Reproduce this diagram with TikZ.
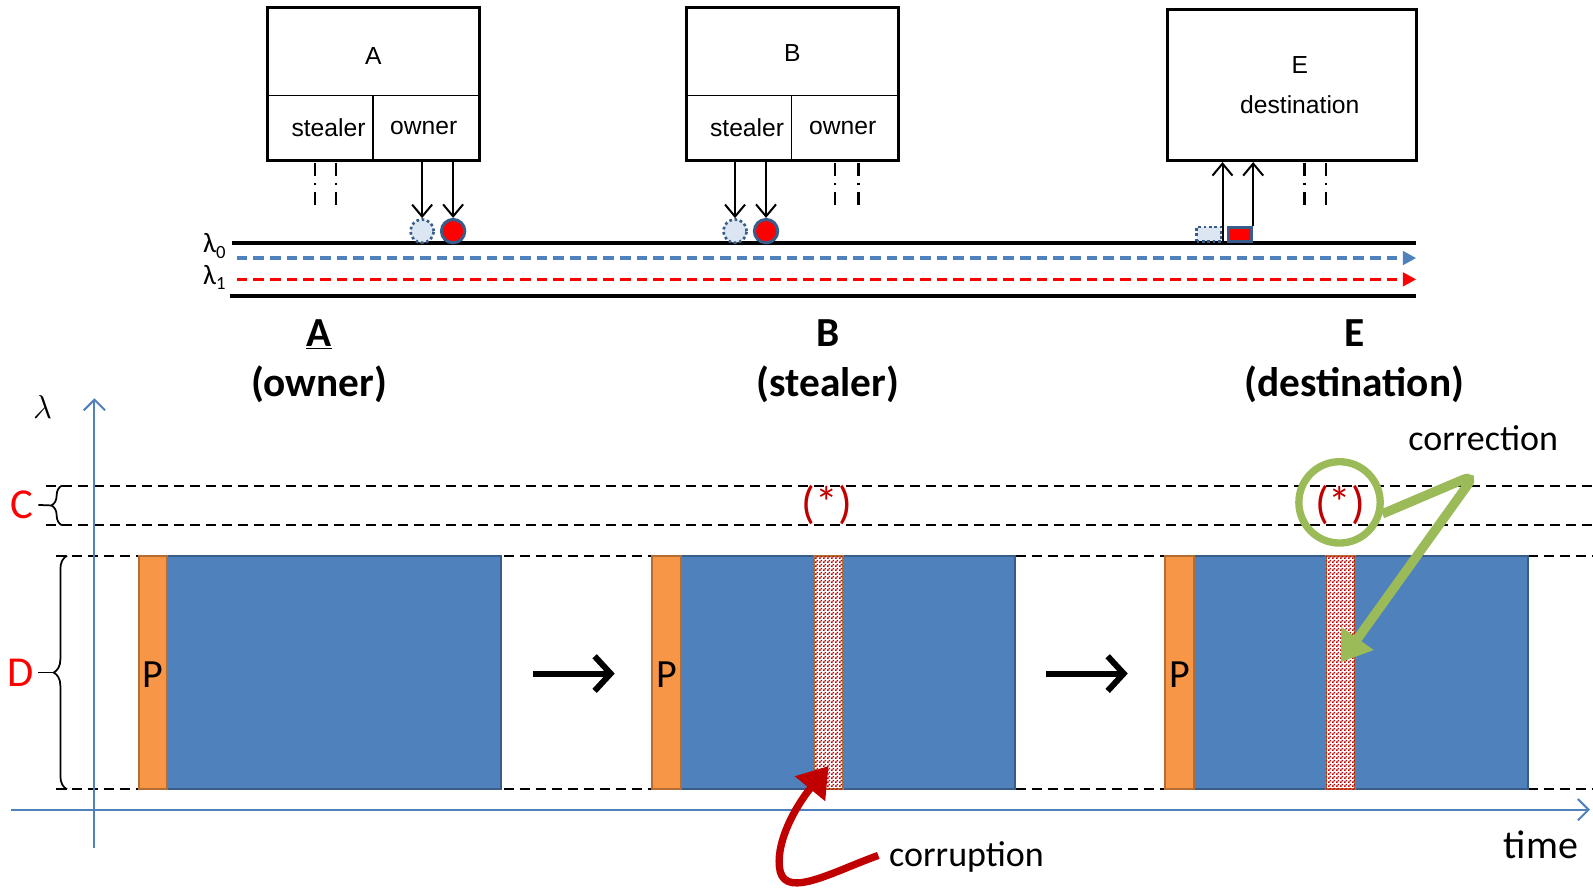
\documentclass[tikz,border=0pt]{standalone}
\usepackage{fontspec}
\setmainfont{Carlito}
\newfontfamily\boxfont{Liberation Sans}
\usetikzlibrary{arrows.meta,decorations.pathreplacing,patterns}

\definecolor{ablue}{HTML}{4F81BD}
\definecolor{dblue}{HTML}{385D8A}
\definecolor{aorange}{HTML}{F79646}
\definecolor{dorange}{HTML}{B66D31}
\definecolor{agreen}{HTML}{9BBB59}
\definecolor{dred}{HTML}{C00000}
\definecolor{pale}{HTML}{DCE6F2}

% fine red/white checkerboard for the corrupted stripe
\pgfdeclarepatternformonly{finecheck}{\pgfpointorigin}{\pgfqpoint{2.6pt}{2.6pt}}{\pgfqpoint{2.6pt}{2.6pt}}{%
  \pgfpathrectangle{\pgfpointorigin}{\pgfqpoint{1.3pt}{1.3pt}}%
  \pgfpathrectangle{\pgfqpoint{1.3pt}{1.3pt}}{\pgfqpoint{1.3pt}{1.3pt}}%
  \pgfusepath{fill}}

\tikzset{
  sz/.style 2 args={minimum width=#1*0.762pt, minimum height=#2*0.762pt, inner sep=0pt},
  cell/.style={draw, line width=1.1pt, font=\boxfont\fontsize{18.5}{22}\selectfont},
  frame/.style={draw, line width=2.3pt},
  dashdot/.style={line width=1.6pt, dash pattern=on 10pt off 5pt on 2pt off 5pt},
  dn/.style={line width=1.5pt, -{Straight Barb[length=9pt,width=15pt,line width=1.5pt]}},
  ghost/.style={draw=dblue, fill=pale, line width=2pt, dotted},
  hit/.style={draw=dblue, fill=red, line width=2.3pt},
  fiber/.style={line width=3pt},
  chan/.style={line width=2.6pt, dash pattern=on 8pt off 4.5pt, -{Triangle[length=10pt,width=10pt]}},
  lab/.style={font=\bfseries\fontsize{31}{36}\selectfont, anchor=base, inner sep=0pt},
  band/.style={line width=1.5pt, dash pattern=on 7.5pt off 4.5pt},
  axis/.style={draw=ablue, line width=1.5pt, -{Straight Barb[length=8pt,width=16pt,line width=1.5pt]}},
  payload/.style={fill=ablue, draw=dblue, line width=1.6pt},
  hdr/.style={fill=aorange, draw=dorange, line width=1.6pt, font=\fontsize{30}{34}\selectfont},
  bad/.style={fill=white, draw=dorange, line width=1.6pt, postaction={pattern=finecheck, pattern color=dred}},
  step arrow/.style={line width=4.5pt, -{Straight Barb[length=12pt,width=26pt,line width=4.5pt]}},
  star/.style={text=dred, font=\fontsize{34}{38}\selectfont},
  side/.style={text=red, font=\fontsize{32}{36}\selectfont},
  brc/.style={line width=1.3pt, decorate, decoration={brace, amplitude=#1}},
  note/.style={font=\fontsize{27}{32}\selectfont, anchor=base west, inner sep=0pt},
}

\begin{document}
\begin{tikzpicture}[x=0.762pt, y=-0.762pt]
\useasboundingbox (0,0) rectangle (1568,874);

% ---- node A ----
\node[cell, sz={207}{86}] (Atop) at (367.5,51) {\smash{\raisebox{-9.5pt}{A}}};
\node[cell, sz={103}{63}] (Aste) at (315.5,125.5) {\hspace*{12pt}stealer};
\node[cell, sz={104}{63}] (Aown) at (419,125.5) {owner\hspace*{3pt}};
\draw[frame] (Atop.north west) rectangle (Aown.south east);
% ---- node B ----
\node[cell, sz={208}{86}] (Btop) at (780,51) {\smash{\raisebox{-7.5pt}{B}}};
\node[cell, sz={103}{63}] (Bste) at (727.5,125.5) {\hspace*{12pt}stealer};
\node[cell, sz={105}{63}] (Bown) at (831.5,125.5) {owner\hspace*{3pt}};
\draw[frame] (Btop.north west) rectangle (Bown.south east);
% ---- node E ----
\node[cell, frame, sz={245}{149}, align=center, font=\boxfont\fontsize{18.5}{30}\selectfont] (Ebox) at (1271.5,83.5) {\hspace*{12pt}E\\\hspace*{12pt}destination};

% idle ports
\foreach \x in {310,331,822,845,1284,1305}
  \draw[dashdot] (\x,160) -- (\x,205);

% fibre with two wavelengths
\coordinate (f0s) at (228,239); \coordinate (f0e) at (1394,239);
\coordinate (f1s) at (226,291); \coordinate (f1e) at (1394,291);
\draw[fiber] (f0s) -- (f0e);
\draw[fiber] (f1s) -- (f1e);
\coordinate (b0) at (233,254); \coordinate (b1) at (1394,254);
\coordinate (r0) at (233,275); \coordinate (r1) at (1394,275);
\draw[chan, ablue] (b0) -- (b1);
\draw[chan, red] (r0) -- (r1);
\node[font=\fontsize{21}{24}\selectfont, inner sep=0pt] (l0) at (211,242) {λ\raisebox{-0.4ex}{\fontsize{14}{16}\selectfont 0}};
\node[font=\fontsize{21}{24}\selectfont, inner sep=0pt] (l1) at (211,273) {λ\raisebox{-0.4ex}{\fontsize{14}{16}\selectfont 1}};

% packets on the fibre
\node[ghost, circle, minimum size=17.5pt, inner sep=0pt] (ga) at (415.5,227.5) {};
\node[hit, circle, minimum size=17.5pt, inner sep=0pt] (ra) at (446,227.5) {};
\node[ghost, circle, minimum size=17.5pt, inner sep=0pt] (gb) at (723.5,227.5) {};
\node[hit, circle, minimum size=17.5pt, inner sep=0pt] (rb) at (754,227.5) {};
\node[ghost, sz={24}{14}] (ge) at (1190,230.5) {};
\node[hit, sz={23}{14}] (re) at (1220.5,230.5) {};

\draw[dn] (ga |- Aown.south) -- (ga.north);
\draw[dn] (ra |- Aown.south) -- (ra.north);
\draw[dn] (gb |- Bste.south) -- (gb.north);
\draw[dn] (rb |- Bste.south) -- (rb.north);
\draw[dn] (ge.east |- f0s) -- (ge.east |- Ebox.south);
\draw[dn] (re.north east) -- (re.north east |- Ebox.south);

% role labels
\node[lab] (nA) at (314,341) {\underline{A}};
\node[lab] (nAr) at (314,390) {(owner)};
\node[lab] (nB) at (815,341) {B};
\node[lab] (nBr) at (815,390) {(stealer)};
\node[lab] (nE) at (1333,341) {E};
\node[lab] (nEr) at (1333,390) {(destination)};

% ---- lower chart ----
\draw[band] (45,478) -- (1568,478);
\draw[band] (45,517) -- (1568,517);
\draw[band] (55,547) -- (1568,547);
\draw[band] (55,777) -- (1568,777);

\node[font=\fontsize{28}{32}\selectfont] (lam) at (42,401) {$\lambda$};
\node[side] (C) at (22,497) {C};
\node[side] (D) at (20,662) {D};
\draw[brc=8pt] (61,517) -- (61,478);
\draw[line width=1.3pt] (50,497.5) -- (C.east);
\draw[brc=10pt] (66,777) -- (66,547);
\draw[line width=1.3pt] (53,662) -- (D.east);

% frames in time
\node[payload, sz={329}{230}] (p1) at (328.5,662) {};
\node[hdr, sz={27}{230}] (h1) at (150.5,662) {\smash{\raisebox{-11pt}{P}}};

\node[payload, sz={329}{230}] (p2) at (834.5,662) {};
\node[hdr, sz={28}{230}] (h2) at (656,662) {\smash{\raisebox{-11pt}{P}}};
\node[bad, sz={29}{230}] (s2) at (815.5,662) {};

\node[payload, sz={329}{230}] (p3) at (1339.5,662) {};
\node[hdr, sz={28}{230}] (h3) at (1161,662) {\smash{\raisebox{-11pt}{P}}};
\node[bad, sz={29}{230}] (s3) at (1319.5,662) {};

\draw[step arrow] (p1.east) ++(31,1) coordinate (a1s) -- ++(80,0) coordinate (a1e);
\draw[step arrow] (p2.east) ++(30,1) coordinate (a2s) -- ++(80,0) coordinate (a2e);

% axes
\coordinate (yb) at (93,835); \coordinate (yt) at (93,392);
\coordinate (xl) at (11,797); \coordinate (xr) at (1565,797);
\draw[axis] (yb) -- (yt);
\draw[axis] (xl) -- (xr);

% control marks
\node[star] (m2) at (814,497) {(*)};
\node[star] (m3) at (1319,497) {(*)};

% corruption
\node[note] (corr) at (875,853) {corruption};
\draw[dred, line width=5.5pt, -{Triangle[length=22pt,width=28pt]}]
  ([xshift=-8pt]corr.west |- 0,842) .. controls (820,858) and (775,884) .. (768,858)
  .. controls (762,832) and (782,795) .. (s2.south |- 0,754);

% correction
\node[note] (corn) at (1386,443) {correction};
\node[draw=agreen, line width=5.5pt, circle, minimum size=61pt, inner sep=0pt] (ring) at (1318.5,494.5) {};
\draw[agreen, line width=7pt, rounded corners=10pt, -{Triangle[length=22pt,width=28pt]}]
  (ring.-15) -- (1452,467) -- (s3.center |- 0,652);

\node[note, font=\fontsize{30}{34}\selectfont] (tm) at (1480,845) {time};
\end{tikzpicture}
\end{document}
